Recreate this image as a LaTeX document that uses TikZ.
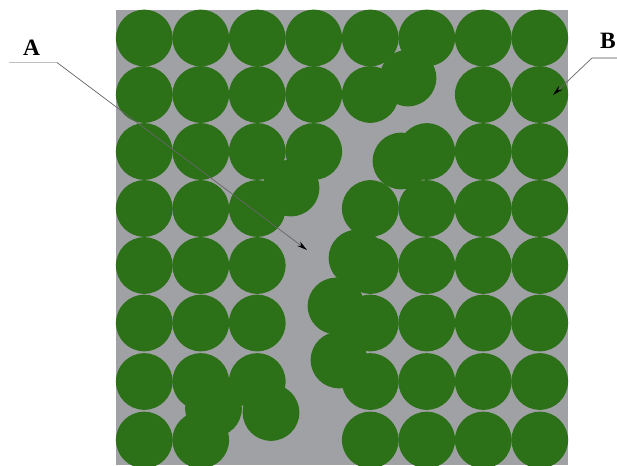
\documentclass[tikz,border=0pt]{standalone}
\usepackage{fontspec}
\setmainfont{Liberation Serif}
\usepackage{xcolor}
\usepackage{tikz}
\usetikzlibrary{calc,arrows.meta,positioning}

\definecolor{fibre}{RGB}{44,112,24}
\definecolor{resin}{RGB}{160,161,165}

\begin{document}
\begin{tikzpicture}[
  x=0.03cm, y=-0.03cm,
  fib/.style={fill=fibre},
  lbl/.style={font=\fontsize{20}{22}\selectfont\bfseries, inner sep=0pt},
  ledge/.style={draw=black!25, line width=1.2pt},
  lead/.style={draw=black!60, line width=0.6pt, -{Stealth[length=9pt, width=4.5pt, color=black]}}
]
\useasboundingbox (0,0) rectangle (617,465);
\fill[resin] (116,10) rectangle (568,465);
% regular packing, gaps left out
\foreach \r/\py in {0/38, 1/94.5, 2/151.5, 3/208.5, 4/265.5, 5/323, 6/381.5, 7/440} {
  \foreach \c in {0,...,7} {
    \pgfmathtruncatemacro{\cell}{10*\r+\c}
    \ifnum\cell=15 \else\ifnum\cell=24 \else\ifnum\cell=33 \else\ifnum\cell=43 \else
    \ifnum\cell=53 \else\ifnum\cell=63 \else\ifnum\cell=72 \else\ifnum\cell=73 \else
      \path[fib] ({144.25+56.5*\c},\py) circle[radius=0.85cm];
    \fi\fi\fi\fi\fi\fi\fi\fi
  }
}
% displaced fibres
\foreach \px/\py in {408/78, 401/161, 291/188, 357/258, 336/306, 339/360, 213.5/408.5, 271/412.5}
  \path[fib] (\px,\py) circle[radius=0.85cm];

\clip (0,0) rectangle (617,465);
% labels
\node[lbl] (labA) at (31.5,47.5) {A};
\coordinate (startA) at (9,62.5);
\coordinate (kneeA) at (57,62.5);
\coordinate (tipA) at (307,250);
\draw[ledge] (startA) -- (kneeA);
\draw[lead] (kneeA) -- (tipA);

\node[lbl] (labB) at (608,41) {B};
\coordinate (startB) at (620,58);
\coordinate (kneeB) at (592,58);
\coordinate (tipB) at (553,95);
\draw[ledge] (startB) -- (kneeB);
\draw[lead] (kneeB) -- (tipB);
\end{tikzpicture}
\end{document}
